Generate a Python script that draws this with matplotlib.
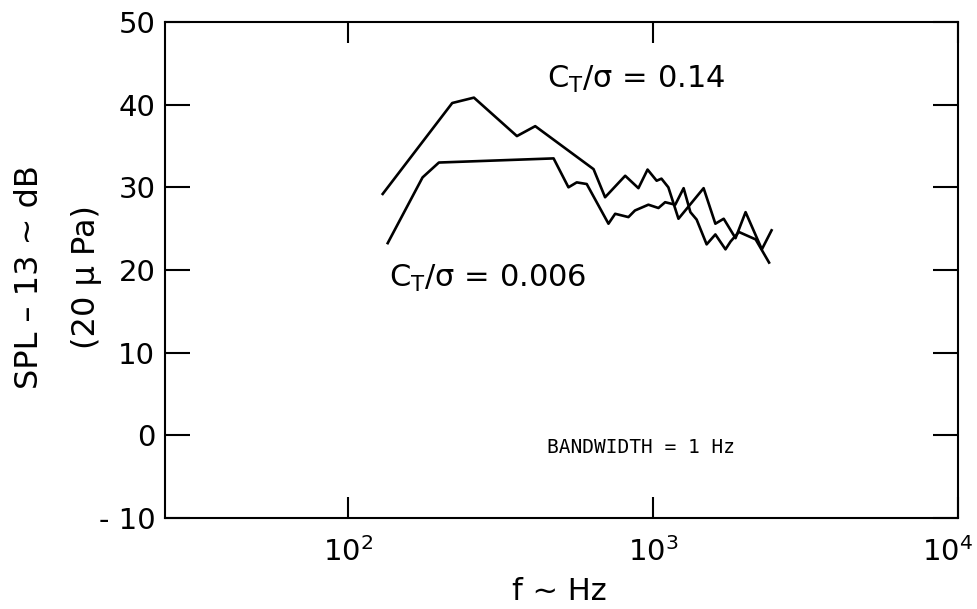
import matplotlib
matplotlib.use("Agg")
import matplotlib.pyplot as plt
from matplotlib.transforms import ScaledTranslation

plt.rcParams["font.family"] = ["DejaVu Sans"]
plt.rcParams["mathtext.default"] = "regular"

# C_T/sigma = 0.14 (starts as upper curve)
freq_high = [129.5, 219, 258, 357, 410, 637, 695, 809, 894, 958, 1026, 1064,
             1121, 1210, 1463, 1599, 1703, 1862, 2009, 2272, 2445]
spl_high = [29.2, 40.2, 40.85, 36.2, 37.4, 32.2, 28.8, 31.4, 29.9, 32.15, 30.8, 31.05,
            30.0, 26.2, 29.9, 25.6, 26.2, 23.85, 27.0, 22.5, 24.8]

# C_T/sigma = 0.006 (starts as lower curve)
freq_low = [134.5, 175, 198, 471, 527, 561, 605, 713, 750, 829, 871, 964, 1040,
            1094, 1181, 1258, 1324, 1388, 1497, 1599, 1726, 1794, 1910, 2168, 2399]
spl_low = [23.25, 31.2, 33.0, 33.5, 30.0, 30.6, 30.4, 25.6, 26.8, 26.4, 27.2, 27.9, 27.5,
           28.2, 27.9, 29.9, 27.0, 26.1, 23.1, 24.3, 22.5, 23.45, 24.6, 23.7, 20.9]

x_ticks = [1e2, 1e3, 1e4]
x_tick_labels = ["$10^2$", "$10^3$", "$10^4$"]
y_ticks = [-10, 0, 10, 20, 30, 40, 50]
y_tick_labels = ["- 10", "0", "10", "20", "30", "40", "50"]

fig = plt.figure(figsize=(9.77, 6.09), dpi=100)
ax = fig.add_axes([165 / 977, 1 - 518 / 609, (958 - 165) / 977, (518 - 22) / 609])

ax.plot(freq_high, spl_high, color="black", linewidth=1.9)
ax.plot(freq_low, spl_low, color="black", linewidth=1.9)

ax.set_xscale("log")
ax.set_xlim(25, 1e4)
ax.set_ylim(-10, 50)
ax.set_xticks(x_ticks, x_tick_labels)
ax.set_yticks(y_ticks, y_tick_labels)
ax.minorticks_off()

for sp in ax.spines.values():
    sp.set_linewidth(1.5)
ax.tick_params(axis="both", direction="in", top=True, right=True, width=1.5)
ax.tick_params(axis="y", length=18, pad=7, labelsize=21)
ax.tick_params(axis="x", length=15, pad=14, labelsize=21)

# keep the 10^4 label inside the figure
last = ax.get_xticklabels()[-1]
last.set_ha("right")
last.set_transform(last.get_transform() + ScaledTranslation(15 / 100, 0, fig.dpi_scale_trans))

# curve labels and note
ax.text(447, 42.0, r"C$_T$/$\sigma$ = 0.14", fontsize=22, ha="left", va="baseline")
ax.text(136, 17.9, r"C$_T$/$\sigma$ = 0.006", fontsize=22, ha="left", va="baseline")
ax.text(447, -2.1, "BANDWIDTH = 1 Hz", fontsize=14, family="DejaVu Sans Mono",
        ha="left", va="baseline")

# axis titles
fig.text(30 / 977, 1 - 277 / 609, "SPL – 13 ~ dB", rotation=90, fontsize=23,
         ha="center", va="center")
fig.text(87 / 977, 1 - 277 / 609, "(20 μ Pa)", rotation=90, fontsize=23,
         ha="center", va="center")
fig.text(559 / 977, 1 - 592 / 609, "f ~ Hz", fontsize=22, ha="center", va="center")

fig.savefig("out.png", dpi=100)
